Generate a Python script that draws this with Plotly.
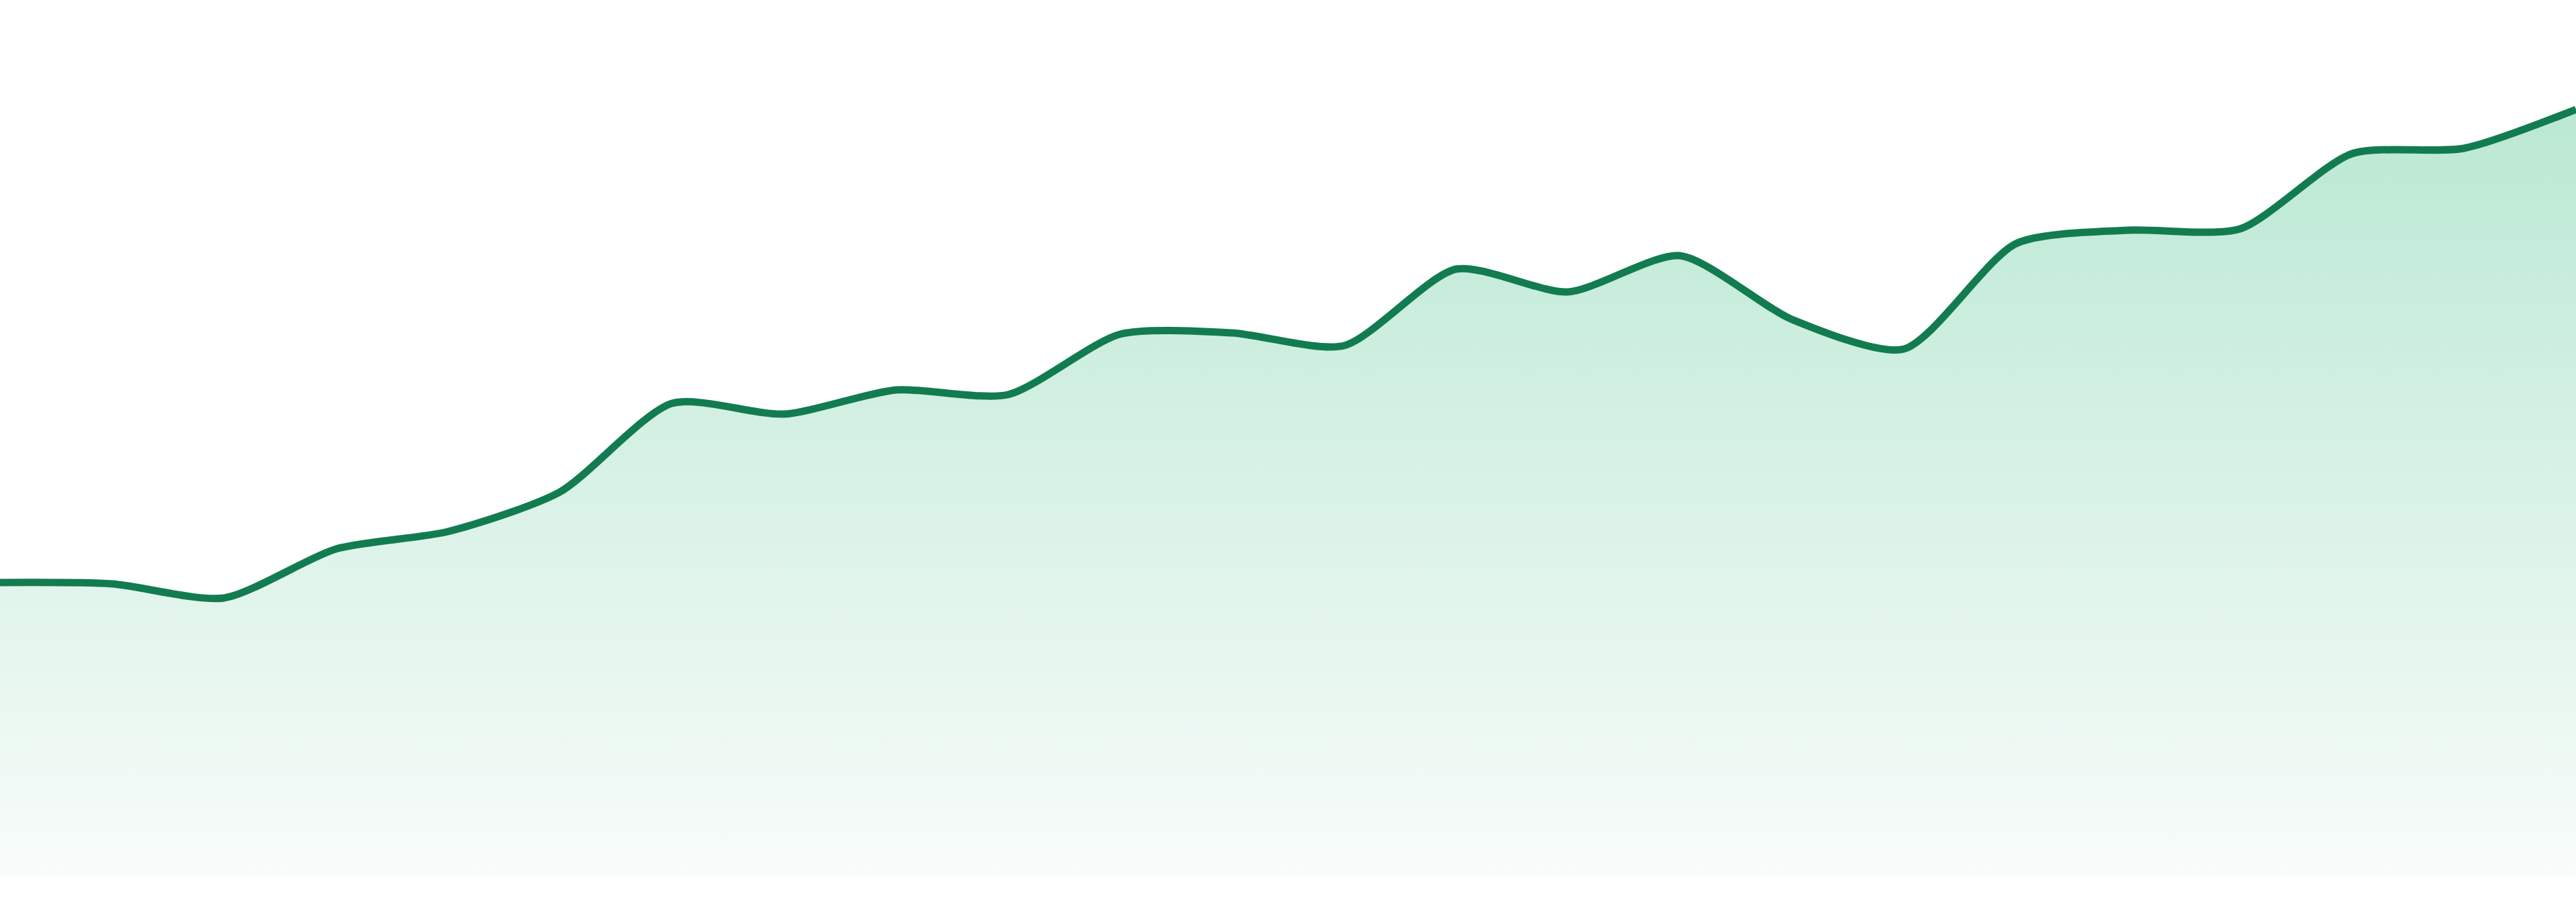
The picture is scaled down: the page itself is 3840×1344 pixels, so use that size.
import plotly.graph_objects as go

# one point per period
periods = list(range(24))
values = [43.7, 43.5, 41.4, 48.7, 51.3, 57.2, 70.4, 68.8, 72.4, 71.7, 80.7, 80.9,
          79.0, 90.4, 87.0, 92.4, 82.9, 78.5, 94.2, 96.2, 96.4, 107.6, 108.4, 114.2]

line_color = '#127c50'
fill_bottom = 'rgba(248,252,250,1)'
fill_top = 'rgba(186,232,211,1)'

fig = go.Figure()
fig.add_trace(go.Scatter(
    x=periods, y=values,
    mode='lines',
    line=dict(color=line_color, width=11, shape='spline', smoothing=0.7),
    fill='tozeroy',
    fillgradient=dict(type='vertical',
                      colorscale=[[0, fill_bottom], [1, fill_top]]),
    showlegend=False,
))

fig.update_layout(width=3840, height=1344,
                  margin=dict(l=0, r=0, t=0, b=39),
                  paper_bgcolor='white',
                  plot_bgcolor='white')
fig.update_xaxes(visible=False, range=[0, 23])
fig.update_yaxes(visible=False, range=[0, 130.5])

# page body has an 8px margin by default, drop it so the figure sits at 0,0
fig.write_html("out.html",
               config={'displayModeBar': False},
               post_script="document.body.style.margin='0';document.body.style.overflow='hidden';")
